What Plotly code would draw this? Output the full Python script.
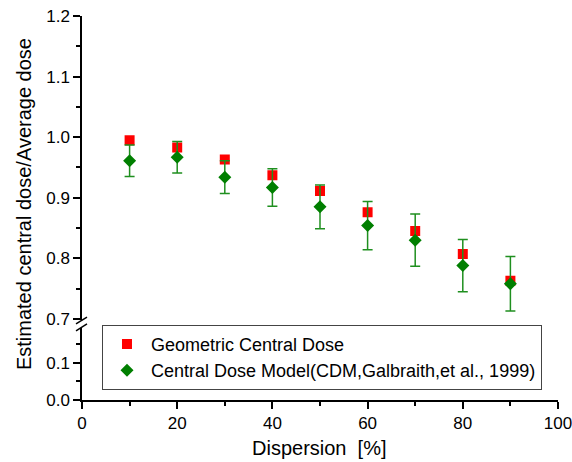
import plotly.graph_objects as go

dispersion = [10, 20, 30, 40, 50, 60, 70, 80, 90]
geometric_central = [0.995, 0.983, 0.963, 0.937, 0.911, 0.876, 0.845, 0.807, 0.763]
cdm_central = [0.961, 0.967, 0.934, 0.917, 0.885, 0.854, 0.830, 0.788, 0.758]
cdm_error = [0.026, 0.026, 0.027, 0.031, 0.036, 0.040, 0.043, 0.043, 0.045]

font_family = "Liberation Sans, Arial, sans-serif"

fig = go.Figure()
# empty trace so the lower (broken) y-axis segment is created
fig.add_trace(go.Scatter(x=[None], y=[None], mode="markers", showlegend=False,
                         hoverinfo="skip", xaxis="x", yaxis="y"))
fig.add_trace(go.Scatter(
    x=dispersion, y=geometric_central, mode="markers",
    name="Geometric Central Dose",
    marker=dict(symbol="square", size=10, color="#ff0000"),
    xaxis="x", yaxis="y2",
))
fig.add_trace(go.Scatter(
    x=dispersion, y=cdm_central, mode="markers",
    name="Central Dose Model(CDM,Galbraith,et al., 1999)",
    marker=dict(symbol="diamond", size=10, color="#007f00"),
    error_y=dict(type="data", array=cdm_error, visible=True,
                 color="#1f8f1f", thickness=1.5, width=5),
    xaxis="x", yaxis="y2",
))

minor_common = dict(ticks="outside", ticklen=4, tickwidth=1.5, tickcolor="black")
axis_common = dict(
    showline=True, linecolor="black", linewidth=1.5,
    ticks="outside", ticklen=7, tickwidth=1.5, tickcolor="black",
    showgrid=False, zeroline=False, automargin=False,
    ticklabeloverflow="allow",
    tickfont=dict(family=font_family, size=17, color="black"),
)

fig.update_layout(
    width=572, height=462,
    margin=dict(l=82, r=14, t=16, b=62),
    paper_bgcolor="white", plot_bgcolor="white",
    font=dict(family=font_family, color="black"),
    xaxis=dict(range=[0, 100], dtick=20, anchor="y",
               minor=dict(dtick=10, **minor_common),
               **axis_common),
    yaxis=dict(domain=[0, 0.187], range=[0, 0.194], tickvals=[0.0, 0.1],
               ticktext=["0.0", "0.1"],
               minor=dict(tickvals=[0.05, 0.15], **minor_common),
               anchor="x", **axis_common),
    yaxis2=dict(domain=[0.208, 1], range=[0.698, 1.2], dtick=0.1, tickformat=".1f",
                minor=dict(dtick=0.05, **minor_common),
                anchor="x", **axis_common),
    showlegend=True,
    legend=dict(x=0.042, y=0.196, xanchor="left", yanchor="top",
                bgcolor="white", bordercolor="#444444", borderwidth=1,
                itemwidth=38,
                font=dict(size=18, color="black"), tracegroupgap=0),
)

# axis titles
fig.add_annotation(text="Estimated central dose/Average dose", xref="paper", yref="paper",
                   x=-0.122, y=0.51, textangle=-90, showarrow=False,
                   font=dict(size=20, color="black"), xanchor="center", yanchor="middle")
fig.add_annotation(text="Dispersion&nbsp; [%]", xref="paper", yref="paper",
                   x=0.498, y=-0.125, showarrow=False,
                   font=dict(size=20, color="black"), xanchor="center", yanchor="middle")

# axis break marks
for y0 in [0.189, 0.207]:
    fig.add_shape(type="line", xref="paper", yref="paper",
                  x0=-0.0126, x1=0.0105, y0=y0 - 0.009, y1=y0 + 0.009,
                  line=dict(color="black", width=1.5))

fig.write_html("out.html",
               config={"displayModeBar": False},
               post_script="document.body.style.margin='0';document.body.style.overflow='hidden';")
